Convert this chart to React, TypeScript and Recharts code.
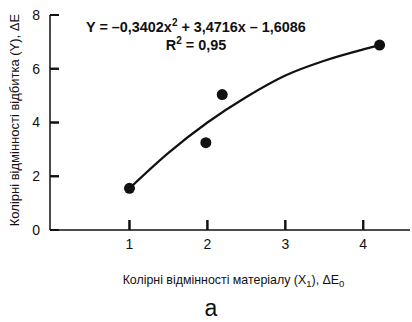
import { ComposedChart, Line, Scatter, XAxis, YAxis } from "recharts";

const pointX = [1, 1.98, 2.19, 4.21];
const pointY = [1.55, 3.25, 5.04, 6.88];

const curveX = [1, 1.5, 2, 2.5, 3, 3.5, 4, 4.21];
const curveY = [1.55, 2.87, 4.0, 4.95, 5.75, 6.3, 6.72, 6.88];

const xTicks = [1, 2, 3, 4];
const yTicks = [0, 2, 4, 6, 8];

const xDomain: [number, number] = [-0.02, 4.6];
const yDomain: [number, number] = [0, 8];

const points = pointX.map((x, i) => ({ x, y: pointY[i] }));
const curve = curveX.map((x, i) => ({ x, y: curveY[i] }));
// tick marks sit on the axes, pointing inward
const xTickMarks = xTicks.map((x) => ({ x, y: yDomain[0] }));
const yTickMarks = yTicks.map((y) => ({ x: xDomain[0], y }));

const ink = "#111";
const font = "'Liberation Sans', Arial, sans-serif";

function Dot(props: any) {
  return <circle cx={props.cx} cy={props.cy} r={5.5} fill={ink} />;
}

function UpTick(props: any) {
  return <path d={`M${props.cx},${props.cy}V${props.cy - 10}`} stroke={ink} strokeWidth={2} fill="none" />;
}

function RightTick(props: any) {
  return <path d={`M${props.cx},${props.cy}H${props.cx + 9}`} stroke={ink} strokeWidth={2} fill="none" />;
}

export default function App() {
  return (
    <div style={{ position: "absolute", left: 0, top: 0, width: 412, height: 322, fontFamily: font, color: ink }}>
      <ComposedChart width={412} height={322} margin={{ top: 15, right: 2, bottom: 62, left: 0 }}>
        <XAxis
          dataKey="x"
          type="number"
          domain={xDomain}
          ticks={xTicks}
          height={30}
          tickSize={-10}
          tickMargin={19}
          tick={{ fill: ink, fontSize: 14, fontFamily: font }}
          axisLine={{ stroke: ink, strokeWidth: 1.5 }}
          tickLine={{ stroke: ink, strokeWidth: 2 }}
        />
        <YAxis
          type="number"
          domain={yDomain}
          ticks={yTicks}
          width={50}
          tickSize={-9}
          tickMargin={19}
          tick={{ fill: ink, fontSize: 14, fontFamily: font }}
          axisLine={{ stroke: ink, strokeWidth: 1.5 }}
          tickLine={{ stroke: ink, strokeWidth: 2 }}
        />
        <Scatter data={xTickMarks} dataKey="y" shape={<UpTick />} isAnimationActive={false} />
        <Scatter data={yTickMarks} dataKey="y" shape={<RightTick />} isAnimationActive={false} />
        <Line data={curve} dataKey="y" type="monotone" stroke={ink} strokeWidth={2.2} dot={false} isAnimationActive={false} />
        <Scatter data={points} dataKey="y" shape={<Dot />} isAnimationActive={false} />
      </ComposedChart>

      <div style={{ position: "absolute", left: 0, width: 392, top: 18, textAlign: "center", fontSize: 14.4, fontWeight: "bold", lineHeight: "18px", whiteSpace: "nowrap" }}>
        Y = –0,3402x<sup style={{ fontSize: 10, lineHeight: 0 }}>2</sup> + 3,4716x – 1,6086
        <br />
        R<sup style={{ fontSize: 10, lineHeight: 0 }}>2</sup> = 0,95
      </div>

      <div
        style={{
          position: "absolute",
          left: 14,
          top: 120,
          transform: "translate(-50%, -50%) rotate(-90deg)",
          fontSize: 13,
          whiteSpace: "nowrap",
        }}
      >
        Колірні відмінності відбитка (Y), ΔE
      </div>

      <div style={{ position: "absolute", left: 0, width: 467, top: 273, textAlign: "center", fontSize: 12.4, whiteSpace: "nowrap" }}>
        Колірні відмінності матеріалу (X<sub style={{ fontSize: 9.5, lineHeight: 0 }}>1</sub>), ΔE<sub style={{ fontSize: 9.5, lineHeight: 0 }}>0</sub>
      </div>

      <div style={{ position: "absolute", left: 0, width: 422, top: 295, textAlign: "center", fontSize: 23 }}>а</div>
    </div>
  );
}
